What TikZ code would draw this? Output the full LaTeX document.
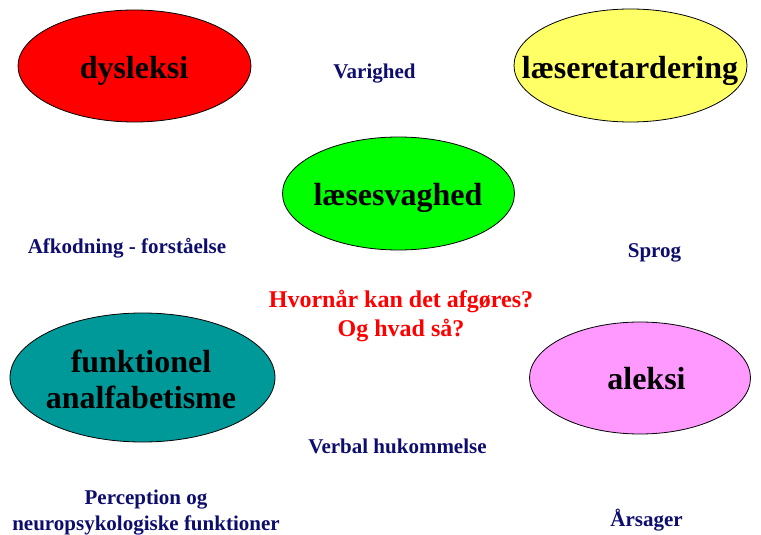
\documentclass[tikz,border=0pt]{standalone}
\usepackage{fontspec}
\setmainfont{Liberation Serif}
\usetikzlibrary{shapes.geometric}
\definecolor{navy}{RGB}{13,13,110}
\definecolor{teal}{RGB}{0,153,153}
\definecolor{pinkish}{RGB}{255,153,255}
\definecolor{yel}{RGB}{255,255,102}
\definecolor{grn}{RGB}{0,255,0}
\tikzset{
  blob/.style={ellipse, draw=black, line width=0.8pt, inner sep=0pt},
  big/.style={inner sep=0pt, align=center, anchor=base, text=black,
    font=\bfseries\fontsize{32}{36}\selectfont},
  lbl/.style={inner sep=0pt, align=center, anchor=base, text=navy, font=\bfseries\fontsize{21}{26}\selectfont},
  ques/.style={inner sep=0pt, align=center, anchor=base, text=red, font=\bfseries\fontsize{24}{29}\selectfont}
}
\begin{document}
\begin{tikzpicture}[x=1pt,y=-1pt]
\useasboundingbox (0,0) rectangle (761,535);
\node[blob, fill=red, minimum width=233pt, minimum height=112pt] (dys) at (134.5,66) {};
\node[blob, fill=yel, minimum width=233pt, minimum height=113pt] (ret) at (630.5,65.5) {};
\node[blob, fill=grn, minimum width=232pt, minimum height=113pt] (svag) at (398.5,193.5) {};
\node[blob, fill=teal, minimum width=265pt, minimum height=129pt] (funk) at (142.5,377.5) {};
\node[blob, fill=pinkish, minimum width=221pt, minimum height=112pt] (alek) at (640,378) {};
\node[big] (dyst) at (134,78) {dysleksi};
\node[big] (rett) at (630,78) {læseretardering};
\node[big] (svagt) at (398,205) {læsesvaghed};
\node[big] (funkt) at (141,408) {funktionel\\analfabetisme};
\node[big] (alekt) at (646.5,389) {aleksi};
\node[lbl] (var) at (374.5,79) {Varighed};
\node[lbl] (afk) at (127,253) {Afkodning - forståelse};
\node[lbl] (spr) at (654.5,257) {Sprog};
\node[ques] (q) at (401,336) {Hvornår kan det afgøres?\\Og hvad så?};
\node[lbl] (verb) at (397.5,453) {Verbal hukommelse};
\node[lbl] (perc) at (146,530) {Perception og\\neuropsykologiske funktioner};
\node[lbl] (aars) at (646.5,526) {Årsager};
\end{tikzpicture}
\end{document}
